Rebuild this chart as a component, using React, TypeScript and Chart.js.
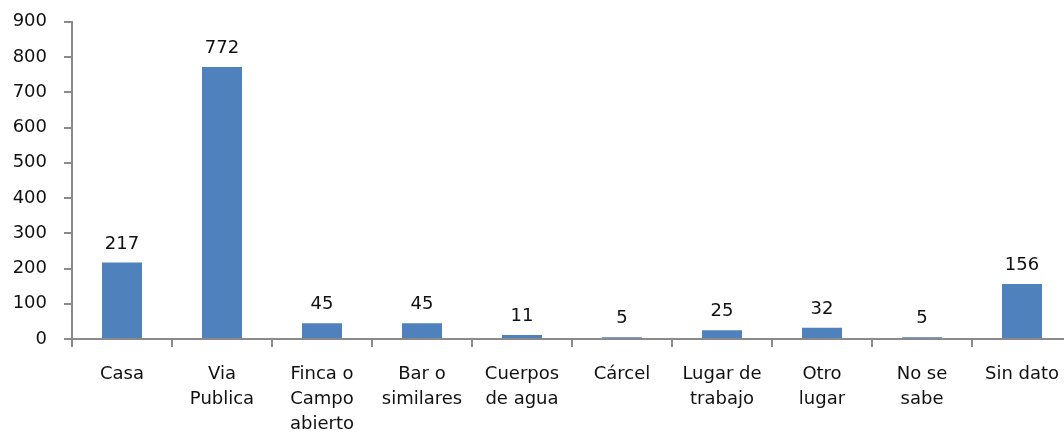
import React, { useEffect, useRef } from "react";
import { Chart, registerables } from "chart.js";

Chart.register(...registerables);

const categories: (string | string[])[] = [
  "Casa",
  ["Via", "Publica"],
  ["Finca o", "Campo", "abierto"],
  ["Bar o", "similares"],
  ["Cuerpos", "de agua"],
  "Cárcel",
  ["Lugar de", "trabajo"],
  ["Otro", "lugar"],
  ["No se", "sabe"],
  "Sin dato",
];
const values: number[] = [217, 772, 45, 45, 11, 5, 25, 32, 5, 156];
const yMax = 900;
const yStep = 100;

const FONT = "'DejaVu Sans', Verdana, sans-serif";
const TEXT = "#111111";
const AXIS = "#8a8a8a";
const BAR = "#4F81BD";

const dataLabels = {
  id: "dataLabels",
  afterDatasetsDraw(chart: any) {
    const ctx = chart.ctx;
    const meta = chart.getDatasetMeta(0);
    ctx.save();
    ctx.font = `18px ${FONT}`;
    ctx.fillStyle = TEXT;
    ctx.textAlign = "center";
    ctx.textBaseline = "alphabetic";
    meta.data.forEach((el: any, i: number) => {
      ctx.fillText(String(values[i]), el.x, el.y - 14);
    });
    ctx.restore();
  },
};

export default function App() {
  const ref = useRef<HTMLCanvasElement>(null);
  useEffect(() => {
    document.body.style.margin = "0";
    document.body.style.overflow = "hidden";
    const chart = new Chart(ref.current!, {
      type: "bar",
      data: {
        labels: categories,
        datasets: [
          {
            data: values,
            backgroundColor: BAR,
            barPercentage: 0.4,
            categoryPercentage: 1,
          },
        ],
      },
      options: {
        responsive: false,
        animation: false,
        devicePixelRatio: 1,
        layout: { padding: { left: 0, right: 8, top: 0, bottom: 0 } },
        plugins: { legend: { display: false }, tooltip: { enabled: false } },
        scales: {
          x: {
            afterFit(scale: any) {
              scale.height = 94;
            },
            border: { display: true, color: AXIS, width: 2 },
            grid: {
              offset: true,
              drawOnChartArea: false,
              drawTicks: true,
              tickLength: 8,
              color: AXIS,
              lineWidth: 2,
            },
            ticks: {
              maxRotation: 0,
              autoSkip: false,
              padding: 15,
              color: TEXT,
              font: { family: FONT, size: 18, lineHeight: 1.39 },
            },
          },
          y: {
            min: 0,
            max: yMax,
            afterFit(scale: any) {
              scale.width = 72;
            },
            border: { display: true, color: AXIS, width: 2 },
            grid: {
              drawOnChartArea: false,
              drawTicks: true,
              tickLength: 8,
              color: AXIS,
              lineWidth: 2,
            },
            ticks: {
              stepSize: yStep,
              padding: 17,
              color: TEXT,
              font: { family: FONT, size: 18 },
            },
          },
        },
      },
      plugins: [dataLabels],
    });
    (window as any).__area = chart.chartArea;
    return () => chart.destroy();
  }, []);
  return (
    <div style={{ position: "relative", width: 1064, height: 433, overflow: "hidden" }}>
      <canvas
        ref={ref}
        width={1080}
        height={439}
        style={{ display: "block", position: "absolute", left: 0, top: -6 }}
      />
    </div>
  );
}
